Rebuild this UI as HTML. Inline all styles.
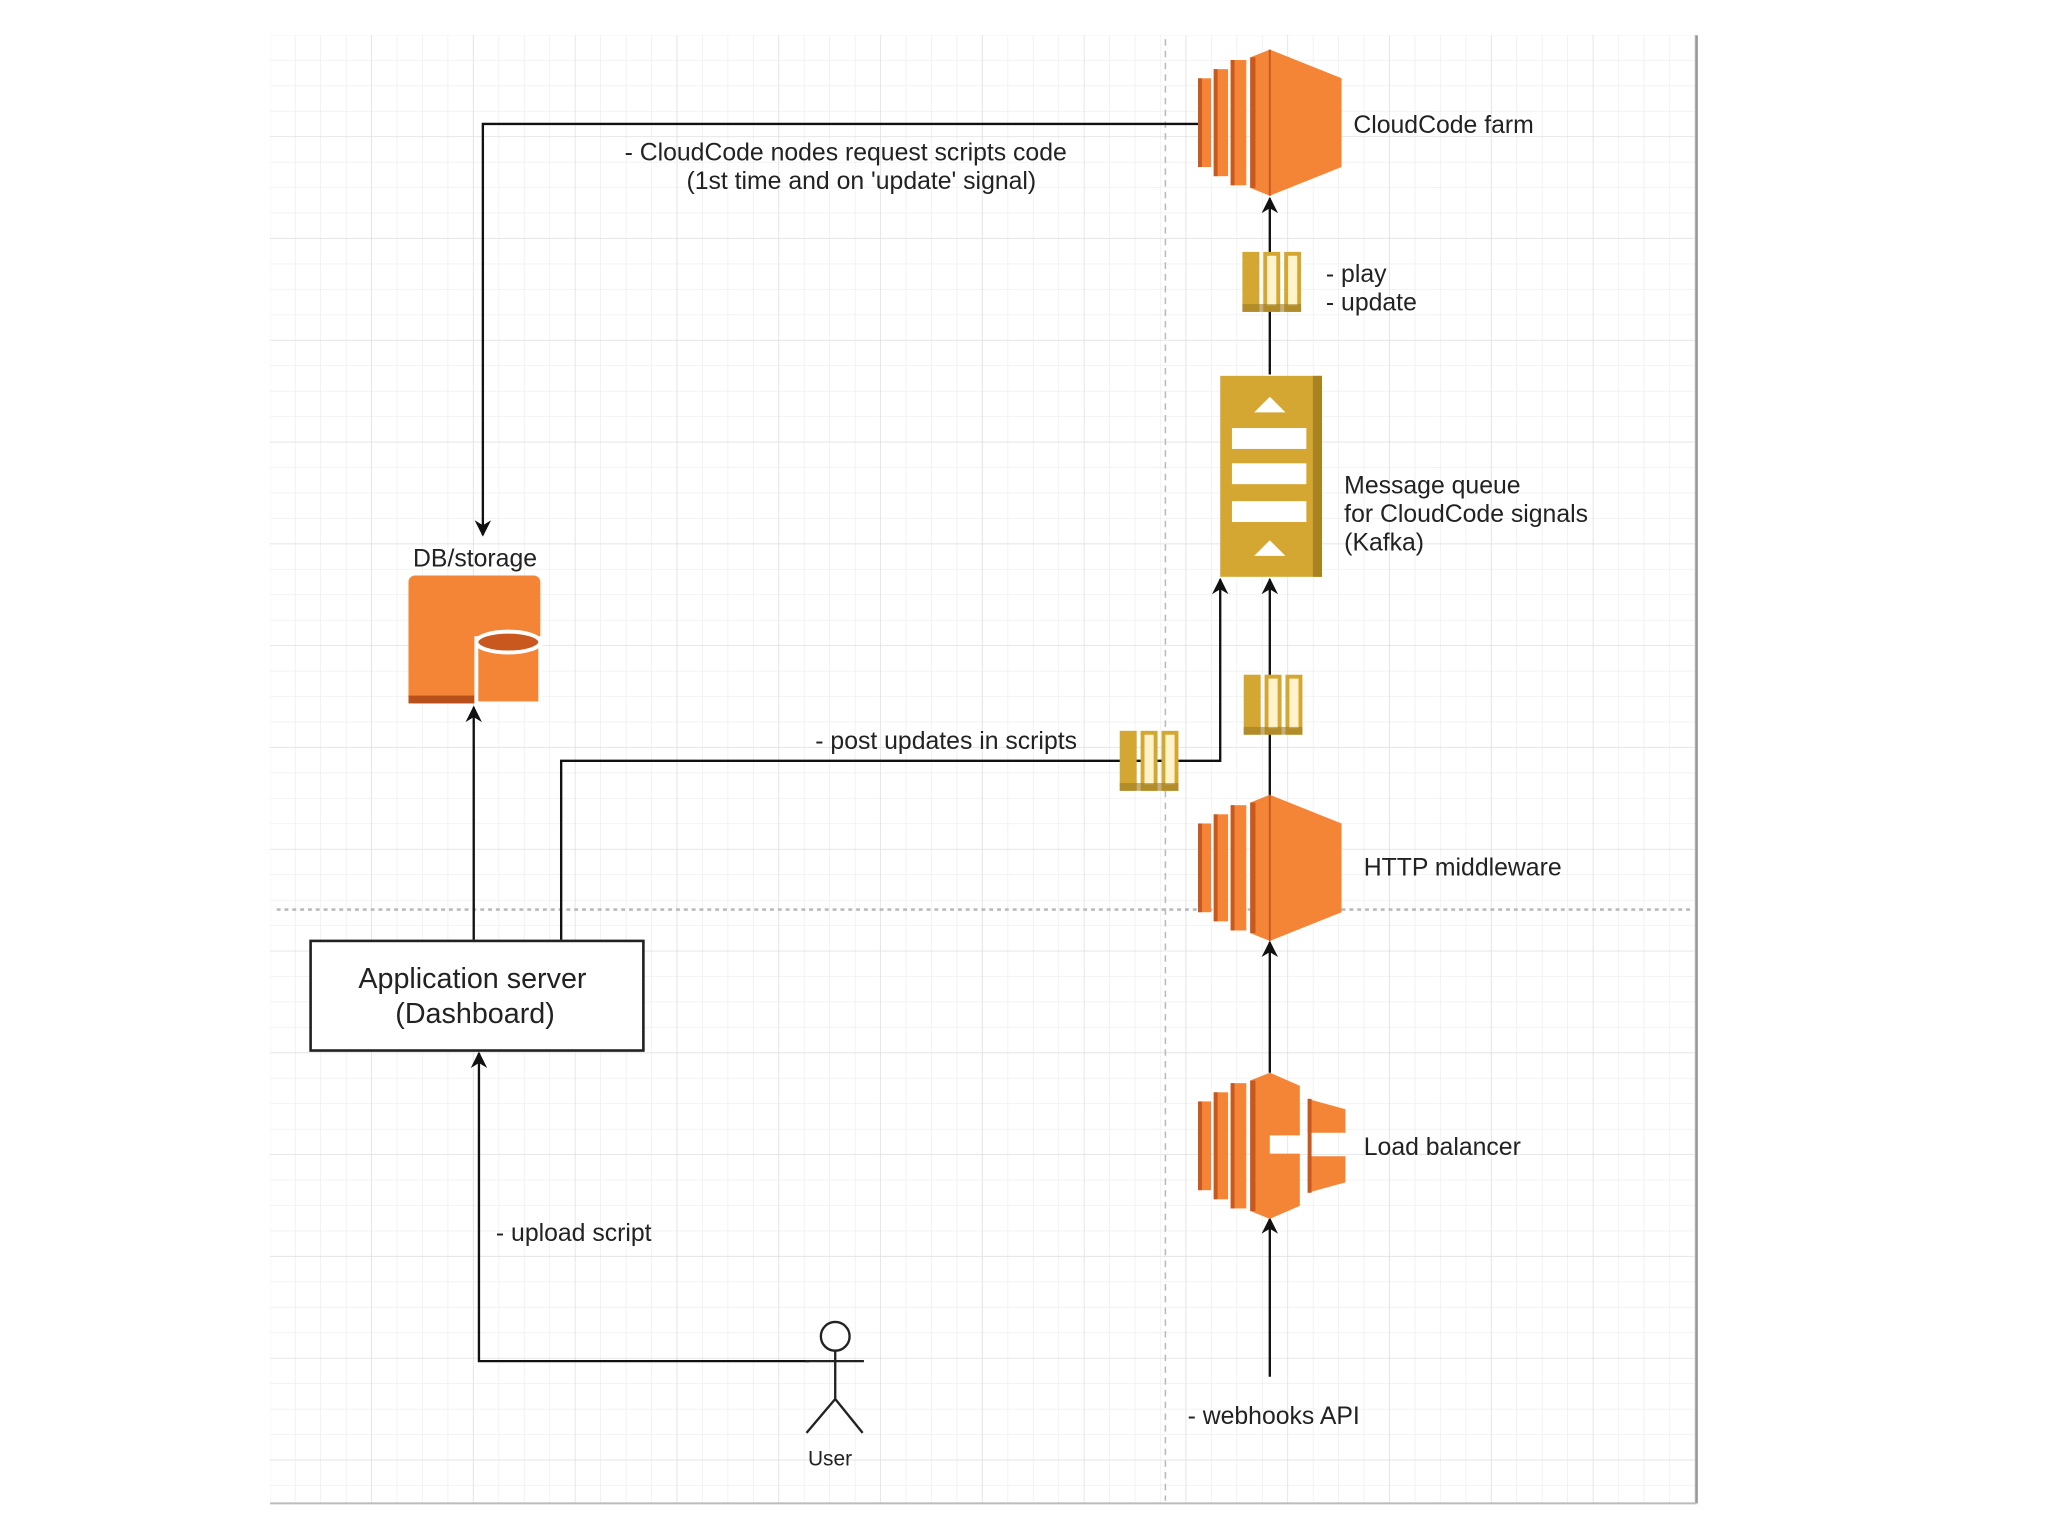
<!DOCTYPE html>
<html><head><meta charset="utf-8"><style>html,body{margin:0;padding:0;background:#fff}svg{display:block}</style></head>
<body>
<svg width="2048" height="1536" viewBox="0 0 1569.3 1177" preserveAspectRatio="none" xmlns="http://www.w3.org/2000/svg" font-family="Liberation Sans, Arial, sans-serif" fill="#222">
<defs>
<pattern id="g" x="207" y="27" width="19.5" height="19.5" patternUnits="userSpaceOnUse">
<path d="M19.5 0V19.5M0 19.5H19.5" stroke="#ececec" stroke-width="1" fill="none"/>
</pattern>
<pattern id="G" x="207" y="27" width="78" height="78" patternUnits="userSpaceOnUse">
<path d="M78 0V78M0 78H78" stroke="#dedede" stroke-width="1" fill="none"/>
</pattern>
<g id="ec2">
<rect x="0" y="22" width="10" height="68" fill="#f58536"/><rect x="0" y="22" width="3" height="68" fill="#c9581f"/>
<rect x="12" y="15" width="11" height="82" fill="#f58536"/><rect x="12" y="15" width="3" height="82" fill="#c9581f"/>
<rect x="25" y="8" width="12" height="96" fill="#f58536"/><rect x="25" y="8" width="3" height="96" fill="#c9581f"/>
<polygon points="40,6 55,0 110,22 110,90 55,112 40,106" fill="#f58536"/>
<rect x="40" y="6" width="4" height="100" fill="#c9581f"/>
<line x1="55" y1="0" x2="55" y2="112" stroke="#c9581f" stroke-width="1.5"/>
</g>
<g id="msg">
<rect x="0" y="0" width="13" height="46" fill="#d4a733"/>
<rect x="16" y="0" width="13" height="46" fill="#d4a733"/><rect x="19" y="3" width="7" height="38" fill="#fff3cc"/>
<rect x="32" y="0" width="13" height="46" fill="#d4a733"/><rect x="35" y="3" width="7" height="38" fill="#fff3cc"/>
<rect x="0" y="40" width="45" height="6" fill="#9b7a22" opacity=".6"/>
</g>
<marker id="a" viewBox="0 0 10 10" refX="9" refY="5" markerWidth="7" markerHeight="7" orient="auto"><path d="M0,0L10,5L0,10L3,5z" fill="#111"/></marker>
</defs>
<rect x="207" y="27" width="1093" height="1125" fill="#fff"/>
<rect x="207" y="27" width="1093" height="1125" fill="url(#g)"/>
<rect x="207" y="27" width="1093" height="1125" fill="url(#G)"/>
<line x1="1300" y1="27" x2="1300" y2="1152" stroke="#999" stroke-width="2"/>
<line x1="207" y1="1152" x2="1300" y2="1152" stroke="#bbb" stroke-width="1.5"/>
<line x1="893" y1="30" x2="893" y2="1150" stroke="#bbb" stroke-width="1.2" stroke-dasharray="5,4"/>
<line x1="212" y1="697" x2="1295" y2="697" stroke="#bbb" stroke-width="2" stroke-dasharray="3,3"/>

<g stroke="#111" stroke-width="1.8" fill="none">
<polyline points="918,95 370,95 370,410" marker-end="url(#a)"/>
<line x1="973" y1="287" x2="973" y2="152" marker-end="url(#a)"/>
<line x1="973" y1="610" x2="973" y2="444" marker-end="url(#a)"/>
<polyline points="430,720 430,583 935,583 935,444" marker-end="url(#a)"/>
<line x1="363" y1="720" x2="363" y2="542" marker-end="url(#a)"/>
<line x1="973" y1="822" x2="973" y2="722" marker-end="url(#a)"/>
<line x1="973" y1="1055" x2="973" y2="934" marker-end="url(#a)"/>
<polyline points="620,1043 367,1043 367,807" marker-end="url(#a)"/>
</g>

<use href="#ec2" x="918" y="38"/>
<use href="#ec2" x="918" y="609"/>
<g transform="translate(918,822)">
<rect x="0" y="22" width="10" height="68" fill="#f58536"/><rect x="0" y="22" width="3" height="68" fill="#c9581f"/>
<rect x="12" y="15" width="11" height="82" fill="#f58536"/><rect x="12" y="15" width="3" height="82" fill="#c9581f"/>
<rect x="25" y="8" width="12" height="96" fill="#f58536"/><rect x="25" y="8" width="3" height="96" fill="#c9581f"/>
<polygon points="40,6 55,0 78,10 78,48 55,48 55,62 78,62 78,102 55,112 40,106" fill="#f58536"/>
<rect x="40" y="6" width="4" height="100" fill="#c9581f"/>
<polygon points="84,20 113,28 113,46 84,46" fill="#f58536"/>
<polygon points="84,64 113,64 113,84 84,92" fill="#f58536"/>
<rect x="84" y="20" width="3" height="72" fill="#c9581f"/>
</g>

<use href="#msg" x="952" y="193"/>
<use href="#msg" x="953" y="517"/>
<use href="#msg" x="858" y="560"/>

<rect x="935" y="288" width="78" height="154" fill="#d4a733"/>
<rect x="1006" y="288" width="7" height="154" fill="#a98320"/>
<polygon points="973,304 961,316 985,316" fill="#fff"/>
<rect x="944" y="328" width="57" height="16" fill="#fff"/>
<rect x="944" y="355" width="57" height="16" fill="#fff"/>
<rect x="944" y="384" width="57" height="16" fill="#fff"/>
<polygon points="973,414 961,426 985,426" fill="#fff"/>

<rect x="313" y="441" width="101" height="98" rx="5" fill="#f58536"/>
<rect x="313" y="533" width="101" height="6" fill="#b8501c"/>
<rect x="365" y="489" width="49" height="50" fill="#f58536" stroke="#fff" stroke-width="3"/>
<ellipse cx="389.5" cy="492" rx="24.5" ry="8" fill="#c9581f" stroke="#fff" stroke-width="3"/>

<rect x="238" y="721" width="255" height="84" fill="#fff" stroke="#222" stroke-width="2"/>
<text x="362" y="757" font-size="22" text-anchor="middle">Application server</text>
<text x="364" y="784" font-size="22" text-anchor="middle">(Dashboard)</text>

<g stroke="#222" stroke-width="1.8" fill="none">
<circle cx="640" cy="1024" r="11" fill="#fff"/>
<line x1="640" y1="1035" x2="640" y2="1072"/>
<line x1="617" y1="1043" x2="662" y2="1043"/>
<line x1="640" y1="1072" x2="618" y2="1098"/>
<line x1="640" y1="1072" x2="661" y2="1098"/>
</g>

<g font-size="19">
<text x="1037" y="102">CloudCode farm</text>
<text x="648" y="123" text-anchor="middle">- CloudCode nodes request scripts code</text>
<text x="660" y="145" text-anchor="middle">(1st time and on 'update' signal)</text>
<text x="1016" y="216">- play</text>
<text x="1016" y="238">- update</text>
<text x="1030" y="378">Message queue</text>
<text x="1030" y="400">for CloudCode signals</text>
<text x="1030" y="422">(Kafka)</text>
<text x="364" y="434" text-anchor="middle">DB/storage</text>
<text x="725" y="574" text-anchor="middle">- post updates in scripts</text>
<text x="1045" y="671">HTTP middleware</text>
<text x="1045" y="885">Load balancer</text>
<text x="380" y="951">- upload script</text>
<text x="910" y="1091">- webhooks API</text>
<text x="636" y="1123" font-size="16" text-anchor="middle">User</text>
</g>
</svg>
</body></html>
